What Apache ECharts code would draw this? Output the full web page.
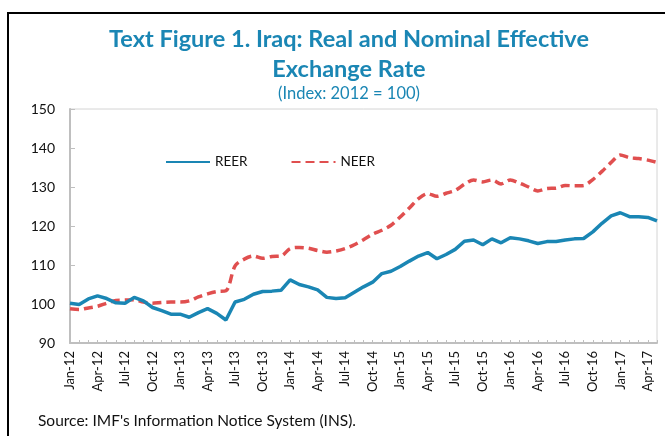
<!DOCTYPE html>
<html>
<head>
<meta charset="utf-8">
<script src="https://cdn.jsdelivr.net/npm/echarts@6/dist/echarts.min.js"></script>
<style>
html, body { margin: 0; padding: 0; background: #fff; }
#chart { width: 665px; height: 436px; }
</style>
</head>
<body>
<div id="chart"></div>
<script>
// 月份标签 Jan-12 .. May-17
var monthNames = ['Jan', 'Feb', 'Mar', 'Apr', 'May', 'Jun', 'Jul', 'Aug', 'Sep', 'Oct', 'Nov', 'Dec'];
var years = ['12', '13', '14', '15', '16', '17'];
var lastMonthCount = 5; // 2017 only runs to May
var categories = [];
years.forEach(function (y, yi) {
    var n = yi === years.length - 1 ? lastMonthCount : 12;
    for (var m = 0; m < n; m++) {
        categories.push(monthNames[m] + '-' + y);
    }
});

var reer = [
    100.2, 99.9, 101.3, 102.1, 101.4, 100.3, 100.2, 101.7, 100.8, 99.1, 98.3, 97.4,
    97.4, 96.6, 97.8, 98.8, 97.6, 95.9, 100.5, 101.2, 102.5, 103.2, 103.3, 103.5,
    106.2, 105.0, 104.4, 103.6, 101.7, 101.4, 101.6, 103.0, 104.4, 105.6, 107.8, 108.4,
    109.6, 111.0, 112.3, 113.2, 111.6, 112.7, 114.0, 116.1, 116.4, 115.2, 116.7, 115.7,
    117.0, 116.7, 116.2, 115.5, 116.0, 116.0, 116.4, 116.7, 116.8, 118.5, 120.7, 122.6,
    123.4, 122.4, 122.4, 122.2, 121.3
];
var neer = [
    98.8, 98.6, 99.0, 99.4, 100.2, 100.9, 101.0, 101.1, 100.5, 100.2, 100.4, 100.5,
    100.5, 100.8, 101.8, 102.6, 103.2, 103.4, 109.8, 111.5, 112.3, 111.7, 112.2, 112.3,
    114.2, 114.5, 114.3, 113.7, 113.3, 113.6, 114.2, 115.2, 116.5, 117.9, 118.9, 120.2,
    122.3, 124.6, 127.0, 128.3, 127.6, 128.4, 129.1, 130.7, 131.8, 131.3, 131.8, 130.8,
    131.8, 131.0, 130.0, 129.0, 129.6, 129.7, 130.4, 130.3, 130.4, 131.9, 134.0, 136.3,
    138.2, 137.5, 137.3, 136.9, 136.3
];
var yMin = 90, yMax = 150, yStep = 10;

var titleBlue = '#1a86b4';
var reerColor = '#1a86b4';
var neerColor = '#e04f4f';
var font = 'Lato, "Open Sans", sans-serif';

var myChart = echarts.init(document.getElementById('chart'));
var option = {
    animation: false,
    textStyle: { fontFamily: font },
    title: {
        left: 344,
        textAlign: 'center',
        top: 19,
        itemGap: 0,
        text: 'Text Figure 1. Iraq: Real and Nominal Effective\nExchange Rate',
        textStyle: {
            color: titleBlue,
            fontFamily: font,
            fontSize: 23.5,
            fontWeight: 'bold',
            lineHeight: 30
        },
        subtext: '(Index: 2012 = 100)',
        subtextStyle: {
            color: titleBlue,
            fontFamily: font,
            fontSize: 16.5,
            lineHeight: 20
        }
    },
    legend: {
        left: 160,
        top: 150,
        itemWidth: 44,
        itemHeight: 14,
        itemGap: 43,
        itemStyle: { opacity: 0 },
        textStyle: { fontSize: 13.5, color: '#111', fontFamily: font },
        data: ['REER', 'NEER']
    },
    grid: {
        left: 70,
        right: 8,
        top: 109,
        bottom: 93,
        show: true,
        borderColor: '#d4d4d4',
        borderWidth: 1
    },
    xAxis: {
        type: 'category',
        data: categories,
        boundaryGap: false,
        axisLine: { lineStyle: { color: '#bfbfbf', width: 2 } },
        axisTick: { interval: 0, inside: true, length: 3, lineStyle: { color: '#bfbfbf' } },
        axisLabel: {
            interval: 2,
            rotate: 90,
            margin: 8,
            fontSize: 13,
            color: '#111',
            fontFamily: font
        },
        splitLine: { show: false }
    },
    yAxis: {
        type: 'value',
        min: yMin,
        max: yMax,
        interval: yStep,
        axisLine: { show: true, lineStyle: { color: '#bfbfbf', width: 2 } },
        axisTick: { show: true, inside: true, length: 5, lineStyle: { color: '#bfbfbf' } },
        axisLabel: { fontSize: 14, color: '#111', margin: 15, fontFamily: font },
        splitLine: { show: false }
    },
    series: [
        {
            name: 'REER',
            type: 'line',
            data: reer,
            symbol: 'none',
            itemStyle: { color: reerColor },
            lineStyle: { color: reerColor, width: 3.5 },
            z: 3
        },
        {
            name: 'NEER',
            type: 'line',
            data: neer,
            symbol: 'none',
            smooth: 0.3,
            itemStyle: { color: neerColor },
            lineStyle: { color: neerColor, width: 3.5, type: [9, 5] },
            z: 2
        }
    ],
    graphic: [
        {
            type: 'rect',
            shape: { x: 8, y: 13, width: 700, height: 500 },
            style: { fill: 'none', stroke: '#000', lineWidth: 2 },
            silent: true
        },
        {
            type: 'text',
            left: 38,
            top: 413,
            style: {
                text: "Source: IMF's Information Notice System (INS).",
                fontSize: 15.5,
                fill: '#111',
                fontFamily: font
            }
        }
    ]
};
myChart.setOption(option);
</script>
</body>
</html>
